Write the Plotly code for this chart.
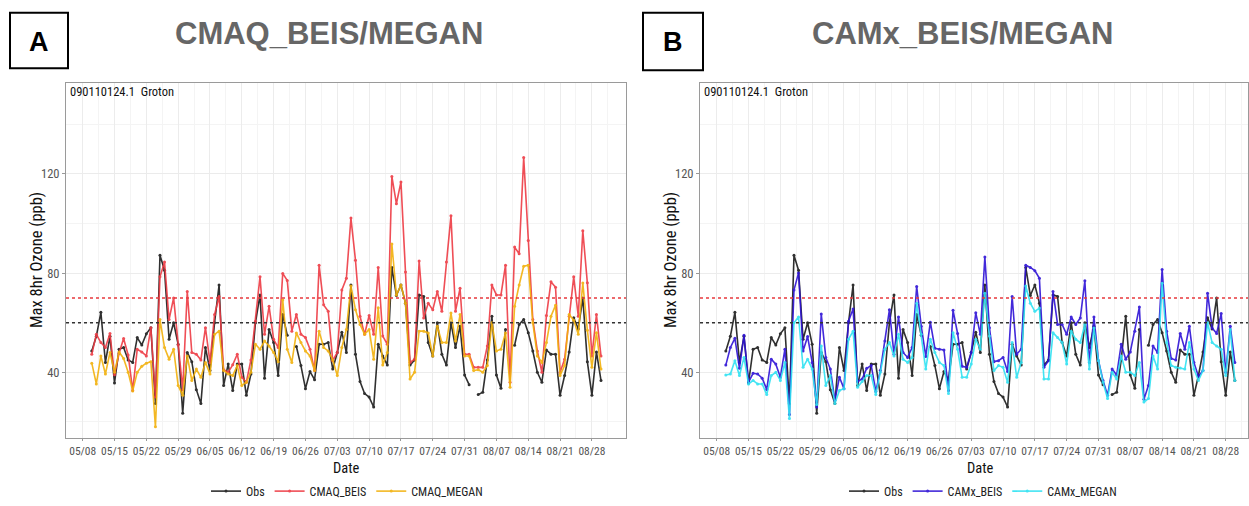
import pandas as pd
import plotly.graph_objects as go

# Daily maximum 8-hr ozone at site 090110124.1 (Groton), summer 2011
dates = pd.date_range("2011-05-10", "2011-08-30", freq="D")

obs = [48.6, 54.5, 64.2, 44, 54.5, 35.7, 49.3, 50, 45, 44,
       54, 51, 55.5, 58, 27.4, 87.2, 81.2, 53.3, 60, 51.3,
       23.5, 48, 44.3, 33, 27.4, 50, 40.7, 60, 75.2, 34.7,
       43.3, 32.7, 43.3, 43.3, 30.7, 39.3, 60, 71.2, 37.6, 57.3,
       52, 38.7, 63.3, 54.9, None, 50.4, 42.7, 33.4, 40.3, 37,
       51.3, 51.3, 52, 41.3, 48, 56.2, 48, 75.2, 47.3, 36.3,
       31.4, 30, 26, 51.3, 46.6, 42.9, 82.3, 71, 75.2, 67.9,
       42.9, 45, 71.2, 70.6, 52, 46.6, 60, 47.3, 42.9, 60,
       50, 58.6, 38.9, 35, None, 31, 32, 45, 62.6, 38.9,
       33.6, 57.3, None, 50.9, 59.3, 61.3, 56, 48.6, 40, 36,
       49, 47.3, 47.3, 30.7, 38.7, 48.2, 62, 57.5, 70, 44.3,
       30.7, 48.2, 36.7]

cmaq_beis = [47.3, 55.3, 52, 50, 55.7, 39, 47.7, 53.6, 47, 32.7,
             49.3, 48.2, 46.6, 58, 30, 78.5, 84.5, 61.3, 70, 51,
             33, 72.6, 48, 47.3, 45, 58, 44, 63.3, 70.6, 41,
             40, 43, 47.3, 38, 36, 45, 60.6, 78.5, 55.3, 66.6,
             53.3, 50, 79.9, 77, 56.6, 63.3, 55.3, 54, 49.3, 40.7,
             83.2, 67.2, 64.6, 44.7, 48, 73.2, 77.9, 102.2, 85.2, 62.6,
             55.3, 62.9, 55.3, 82.3, 54.6, 51.3, 119, 108, 116.8, 80.5,
             44, 45.3, 84.9, 61.9, 67.9, 65.2, 72.6, 64.6, 84.5, 103.1,
             64.6, 73.9, 47.3, 47.3, 42, 42, 42, 50.6, 75.2, 71.2,
             71.2, 83.2, 36, 90.5, 87.8, 126.6, 93.2, 61.3, 48.6, 40,
             62.9, 76.5, 74.3, 40, 45.3, 62.6, 78.5, 62.6, 97.1, 76.1,
             46.6, 63.3, 46.6]

cmaq_megan = [43.7, 35.3, 46.6, 39.3, 48, 40, 48.2, 45.6, 40, 32.5,
              40, 42.4, 43.7, 44.3, 18, 61.3, 50, 45.3, 49.3, 34.7,
              30.7, 46.6, 36.7, 41.3, 38, 44, 39.3, 55.3, 56.6, 40.7,
              39.3, 38.7, 42.7, 34.7, 36, 40, 51.3, 49.3, 52.6, 50.6,
              48, 44.3, 69.2, 49.3, 44, 55.9, 52, 48.6, 46.6, 40.7,
              56.6, 50, 48.6, 45, 38.7, 50, 57.3, 74.8, 65.2, 59.3,
              55.3, 57.3, 45.3, 66, 42.9, 48, 91.8, 71.2, 75.2, 67.9,
              37.3, 40, 56.6, 56.6, 55.9, 46.6, 58.6, 52, 52, 63.9,
              52.6, 63.3, 46.6, 46.6, 40.7, 41, 40, 42.7, 60, 48.6,
              49.3, 55.9, 34, 66.6, 75.2, 82.8, 83.2, 60, 46.6, 44,
              52, 62.6, 67, 38.7, 42.7, 63.3, 61, 55.3, 76, 57,
              42, 56, 41.3]

camx_beis = [42.9, 50, 53.7, 41.6, 54.9, 36, 39.6, 39.3, 37.6, 33.1,
             45.3, 43.3, 38, 49.3, 23, 73.2, 80.1, 48.6, 54.4, 44,
             26, 63.5, 46, 41.3, 28.7, 38, 33.4, 60.6, 65.5, 36.3,
             37.3, 41.6, 42.7, 32.3, 40.7, 52.6, 65.2, 47.3, 62.3, 48,
             46, 50, 74.6, 58.6, 46.4, 60.2, 49.7, 49.3, 49, 32.7,
             65, 55.7, 42.4, 42, 48, 64, 55.3, 86.5, 58, 44.3,
             44.7, 46, 40.3, 70.6, 47.3, 49.3, 83.2, 82.3, 81, 77.9,
             42, 44.7, 72.6, 59.3, 59.3, 55.3, 62.3, 59.3, 61.9, 76.9,
             44, 62.3, 44.7, 36.7, 30.7, 41.3, 38.9, 51.3, 45.3, 48.2,
             56.6, 66.3, 29.1, 34.7, 50.6, 48, 81.5, 56.6, 45.6, 45,
             55.7, 49.3, 58.6, 44, 38.3, 40.7, 71.9, 57.9, 55.7, 63.7,
             40, 58.6, 44]

camx_megan = [38.9, 39.3, 44.7, 38.7, 46, 35.3, 36.7, 35.3, 35.3, 31,
              38.7, 40, 36.7, 44, 21.4, 60, 62.3, 42, 45.3, 41.3,
              27, 50.6, 34.7, 38.7, 27.4, 32.7, 33.4, 53.3, 56.6, 34,
              36.3, 38.7, 38.7, 31, 40, 49.3, 52, 46.6, 55.3, 45.3,
              44, 46, 67.9, 55.3, 41.3, 53.3, 48, 44, 42.7, 31.4,
              56, 49.3, 38, 38, 43.3, 53.3, 49.3, 71.9, 54.6, 40.7,
              42.7, 42, 36, 52, 38, 44, 74.8, 67.9, 64.6, 65.9,
              37.3, 37.3, 56, 54, 52, 43.3, 56.6, 53.3, 52, 59.3,
              41.3, 57.9, 44.7, 36, 29.4, 40, 37.3, 46.6, 40, 40,
              38.7, 44, 28, 29.4, 46.6, 41.3, 75.9, 52, 42.7, 42,
              41.7, 41.3, 52, 41.3, 36.7, 40.7, 60, 52, 50.6, 49.3,
              38.7, 57.3, 36.7]

week_ticks = pd.date_range("2011-05-08", "2011-08-28", freq="7D")
tick_text = [d.strftime("%m/%d") for d in week_ticks]
y_ticks = [40, 80, 120]
y_minor = [20, 60, 100, 140]
thresholds = [(70, "#e8383d"), (60, "#333333")]
site_label = "090110124.1  Groton"

W, H = 1249, 506
NARROW = "Liberation Sans Narrow, Arial Narrow, Roboto Condensed, sans-serif"
BOLD = "Liberation Sans, Arial, sans-serif"
DAY = pd.Timedelta(days=1)


def px_x(p):
    return p / W


def px_y(p):
    return 1 - p / H


fig = go.Figure()

series_a = [("Obs", obs, "#1a1a1a"),
            ("CMAQ_BEIS", cmaq_beis, "#ee3b44"),
            ("CMAQ_MEGAN", cmaq_megan, "#f2b10c")]
series_b = [("Obs", obs, "#1a1a1a"),
            ("CAMx_BEIS", camx_beis, "#2e12d6"),
            ("CAMx_MEGAN", camx_megan, "#2fe2f2")]

for name, vals, col in series_a:
    fig.add_trace(go.Scatter(x=dates, y=vals, name=name, mode="lines+markers",
                             line=dict(color=col, width=1.6), opacity=0.9,
                             marker=dict(size=3, color=col),
                             xaxis="x", yaxis="y", legend="legend"))
for name, vals, col in series_b:
    fig.add_trace(go.Scatter(x=dates, y=vals, name=name, mode="lines+markers",
                             line=dict(color=col, width=1.6), opacity=0.9,
                             marker=dict(size=3, color=col),
                             xaxis="x2", yaxis="y2", legend="legend2"))

# panel geometry (pixels) and date span shown on each panel
panels = {
    "a": dict(x0=66, x1=626, lo=-3.67, hi=119.5, mid=346),
    "b": dict(x0=700, x1=1248, lo=-3.68, hi=116.9, mid=980),
}
y_range = [13.6, 156.7]
y_dom = [px_y(443), px_y(84)]
anchor = week_ticks[0]

common_x = dict(
    type="date", tickvals=week_ticks, ticktext=tick_text, tickangle=0,
    ticks="outside", ticklen=2, tickcolor="#999999",
    tickfont=dict(family=NARROW, size=11.5, color="#555555"),
    showgrid=True, gridcolor="#ececec", gridwidth=1,
    minor=dict(tickvals=week_ticks + pd.Timedelta(hours=84), showgrid=True,
               gridcolor="#f4f4f4", gridwidth=1),
    showline=True, linecolor="#9a9a9a", linewidth=1, mirror=True,
    zeroline=False, fixedrange=True,
)
common_y = dict(
    range=y_range, domain=y_dom, tickvals=y_ticks,
    ticks="outside", ticklen=3, tickcolor="#999999",
    tickfont=dict(family=NARROW, size=12.5, color="#555555"),
    showgrid=True, gridcolor="#ececec", gridwidth=1,
    minor=dict(tickvals=y_minor, showgrid=True, gridcolor="#f4f4f4", gridwidth=1),
    showline=True, linecolor="#9a9a9a", linewidth=1, mirror=True,
    zeroline=False,
)

pa, pb = panels["a"], panels["b"]
fig.update_layout(
    xaxis=dict(common_x, domain=[px_x(pa["x0"]), px_x(pa["x1"])],
               range=[anchor + pa["lo"] * DAY, anchor + pa["hi"] * DAY], anchor="y"),
    yaxis=dict(common_y, anchor="x"),
    xaxis2=dict(common_x, domain=[px_x(pb["x0"]), px_x(pb["x1"])],
                range=[anchor + pb["lo"] * DAY, anchor + pb["hi"] * DAY], anchor="y2"),
    yaxis2=dict(common_y, anchor="x2"),
)

shapes = []
annotations = []
for xr, yr, panel in (("x", "y", pa), ("x2", "y2", pb)):
    for val, col in thresholds:
        shapes.append(dict(type="line", xref=f"{xr} domain", yref=yr, x0=0, x1=1,
                           y0=val, y1=val, line=dict(color=col, width=1.6, dash="dot")))
    annotations.append(dict(text=site_label, xref="paper", yref="paper",
                            x=px_x(panel["x0"] + 2), y=px_y(93), xanchor="left",
                            yanchor="middle", showarrow=False,
                            font=dict(family=NARROW, size=12.5, color="#111111")))
    annotations.append(dict(text="Date", xref="paper", yref="paper",
                            x=px_x(panel["mid"]), y=px_y(474), xanchor="center",
                            yanchor="middle", showarrow=False, borderpad=0,
                            font=dict(family=NARROW, size=14.5, color="#111111")))
    annotations.append(dict(text="Max 8hr Ozone (ppb)", xref="paper", yref="paper",
                            x=px_x(panel["x0"] - 29), y=px_y(263), textangle=-90,
                            xanchor="center", yanchor="middle", showarrow=False,
                            font=dict(family=NARROW, size=16.5, color="#111111")))

# panel headings with boxed letters
for letter, bx0, bx1, by0, by1, title, tx in (
        ("A", 10, 68, 13, 69, "CMAQ_BEIS/MEGAN", 329),
        ("B", 643, 703, 13, 71, "CAMx_BEIS/MEGAN", 962)):
    shapes.append(dict(type="rect", xref="paper", yref="paper",
                       x0=px_x(bx0), x1=px_x(bx1), y0=px_y(by1), y1=px_y(by0),
                       line=dict(color="#000000", width=2), fillcolor="white"))
    annotations.append(dict(text=f"<b>{letter}</b>", xref="paper", yref="paper",
                            x=px_x((bx0 + bx1) / 2), y=px_y((by0 + by1) / 2 + 1),
                            xanchor="center", yanchor="middle", showarrow=False,
                            font=dict(family=BOLD, size=27, color="#000000")))
    annotations.append(dict(text=f"<b>{title}</b>", xref="paper", yref="paper",
                            x=px_x(tx), y=px_y(34), xanchor="center", yanchor="middle",
                            showarrow=False,
                            font=dict(family=BOLD, size=31, color="#666666")))

legend_common = dict(orientation="h", xanchor="center", yanchor="middle",
                     y=px_y(497), font=dict(family=NARROW, size=12, color="#222222"),
                     bgcolor="rgba(0,0,0,0)", itemwidth=30, tracegroupgap=0)

fig.update_layout(
    width=W, height=H, margin=dict(l=0, r=0, t=0, b=0),
    paper_bgcolor="white", plot_bgcolor="white",
    shapes=shapes, annotations=annotations,
    legend=dict(legend_common, x=px_x(347)),
    legend2=dict(legend_common, x=px_x(983)),
    showlegend=True,
)

fig.write_html("out.html")
